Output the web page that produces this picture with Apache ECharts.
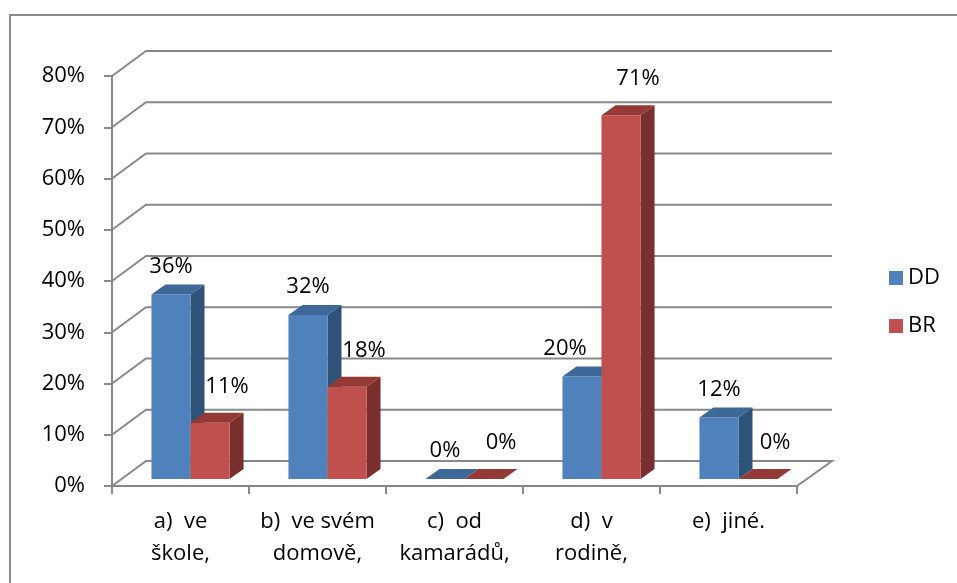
<!DOCTYPE html>
<html>
<head>
<meta charset="utf-8">
<script src="https://cdn.jsdelivr.net/npm/echarts@6/dist/echarts.min.js"></script>
<style>
  html, body { margin: 0; padding: 0; background: #fff; }
  #chart { width: 957px; height: 583px; }
</style>
</head>
<body>
<div id="chart"></div>
<script>
// Categories (wrapped onto two lines like the original axis)
const categories = [
  "a)  ve\nškole,",
  "b)  ve svém\ndomově,",
  "c)  od\nkamarádů,",
  "d)  v\nrodině,",
  "e)  jiné."
];
const seriesNames = ["DD", "BR"];
const ddValues = [36, 32, 0, 20, 12];
const brValues = [11, 18, 0, 71, 0];
const yTicks = [0, 10, 20, 30, 40, 50, 60, 70, 80];

// 3D look: back wall offset, bar placement inside the depth, bar depth
const WALL = { dx: 34, dy: -25 };
const BAR_OFF = { dx: 10, dy: -7 };
const BAR_DEPTH = { dx: 14, dy: -10 };
const BAR_FRAC = 0.285;
const GRID_COLOR = "#888888";
const FONT = "Open Sans";

const palette = [
  { front: "#4F81BD", top: "#3D6898", side: "#2F5279" },
  { front: "#C0504D", top: "#953937", side: "#7A2E2D" }
];
const valuesBySeries = [ddValues, brValues];

function renderWall(params, api) {
  const v = api.value(1);
  const catW = api.size([1, 0])[0];
  const p0 = api.coord([0, v]);
  const pN = api.coord([categories.length - 1, v]);
  const L = p0[0] - catW / 2, R = pN[0] + catW / 2, y = p0[1];
  const pts = [[L, y], [L + WALL.dx, y + WALL.dy], [R + WALL.dx + 1, y + WALL.dy]];
  if (v === 0) pts.push([R, y]);
  return {
    type: "polyline",
    shape: { points: pts },
    style: { stroke: GRID_COLOR, lineWidth: 2, fill: null },
    silent: true
  };
}

function makeBarRenderer(si) {
  const col = palette[si];
  return function (params, api) {
    const ci = api.value(0), v = api.value(1);
    const base = api.coord([ci, 0]);
    const top = api.coord([ci, v]);
    const catW = api.size([1, 0])[0];
    const bw = catW * BAR_FRAC;
    const cx = base[0] + BAR_OFF.dx;
    const x0 = si === 0 ? cx - bw : cx;
    const x1 = x0 + bw;
    const yb = base[1] + BAR_OFF.dy;
    const yt = top[1] + BAR_OFF.dy;
    const D = BAR_DEPTH;
    const children = [];
    if (yb - yt > 0.5) {
      children.push({
        type: "polygon",
        shape: { points: [[x1, yt], [x1 + D.dx, yt + D.dy], [x1 + D.dx, yb + D.dy], [x1, yb]] },
        style: { fill: col.side }
      });
      children.push({
        type: "rect",
        shape: { x: x0, y: yt, width: bw, height: yb - yt },
        style: { fill: col.front }
      });
    }
    children.push({
      type: "polygon",
      shape: { points: [[x0, yt], [x1, yt], [x1 + D.dx, yt + D.dy], [x0 + D.dx, yt + D.dy]] },
      style: { fill: col.top }
    });
    // value label above the bar; DD label steps left when its BR neighbour is taller
    let lx = (x0 + x1) / 2, ly;
    if (si === 0) {
      if (brValues[ci] > v) lx -= 17;
      ly = yt - 28;
    } else {
      lx += 17;
      ly = yt - 36;
    }
    children.push({
      type: "text",
      style: {
        text: v + "%",
        x: lx, y: ly,
        align: "center", verticalAlign: "middle",
        fontFamily: FONT, fontSize: 22, fill: "#000"
      },
      z2: 10
    });
    return { type: "group", children: children };
  };
}

const chart = echarts.init(document.getElementById("chart"), null, { renderer: "canvas" });
chart.setOption({
  animation: false,
  backgroundColor: "#fff",
  graphic: [{
    type: "rect",
    shape: { x: 10, y: 15, width: 1000, height: 1000 },
    style: { fill: null, stroke: "#8a8a8a", lineWidth: 2 },
    silent: true, z: -1
  }],
  legend: {
    orient: "vertical",
    left: 889, top: 267,
    padding: 0,
    itemWidth: 14, itemHeight: 14, itemGap: 26,
    icon: "rect",
    data: seriesNames,
    textStyle: { fontFamily: FONT, fontSize: 22, lineHeight: 22, color: "#000" }
  },
  grid: { left: 112, right: 160, top: 76, bottom: 97, outerBoundsMode: "none", containLabel: false },
  xAxis: {
    type: "category",
    data: categories,
    boundaryGap: true,
    axisLine: { show: true, lineStyle: { color: GRID_COLOR, width: 2 } },
    axisTick: { show: true, length: 8, interval: 0, lineStyle: { color: GRID_COLOR, width: 2 } },
    axisLabel: {
      interval: 0, margin: 20,
      fontFamily: FONT, fontSize: 22, lineHeight: 32, color: "#000"
    },
    splitLine: { show: false }
  },
  yAxis: {
    type: "value",
    min: 0, max: 80, interval: 10,
    axisLine: { show: true, lineStyle: { color: GRID_COLOR, width: 2 } },
    axisTick: { show: true, length: 8, lineStyle: { color: GRID_COLOR, width: 2 } },
    axisLabel: {
      formatter: "{value}%", margin: 27,
      fontFamily: FONT, fontSize: 22, color: "#000"
    },
    splitLine: { show: false }
  },
  series: [
    {
      type: "custom", name: "wall", z: 1, silent: true, clip: false,
      renderItem: renderWall,
      encode: { x: 0, y: 1 },
      data: yTicks.map(v => [0, v])
    },
    {
      type: "custom", name: seriesNames[0], z: 3, clip: false,
      itemStyle: { color: palette[0].front },
      renderItem: makeBarRenderer(0),
      encode: { x: 0, y: 1 },
      data: ddValues.map((v, i) => [i, v])
    },
    {
      type: "custom", name: seriesNames[1], z: 4, clip: false,
      itemStyle: { color: palette[1].front },
      renderItem: makeBarRenderer(1),
      encode: { x: 0, y: 1 },
      data: brValues.map((v, i) => [i, v])
    }
  ]
});
</script>
</body>
</html>
